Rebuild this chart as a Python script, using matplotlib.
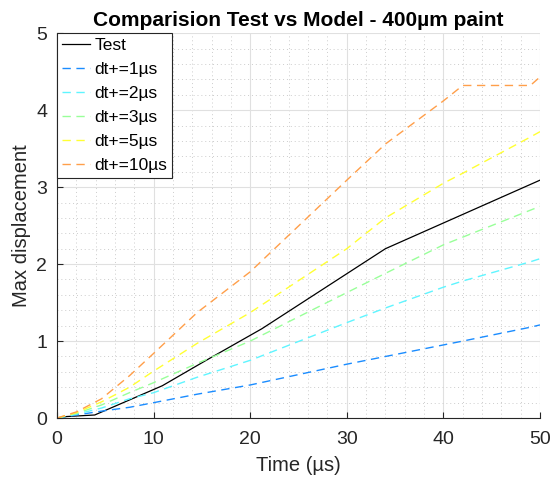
import matplotlib.pyplot as plt
from matplotlib.ticker import MultipleLocator

plt.rcParams['font.family'] = ['Liberation Sans', 'DejaVu Sans']

# Mesures (test) et résultats du modèle pour chaque pas de temps
t_test = [0, 1, 3.9, 10.9, 15.3, 21.2, 34, 50]
d_test = [0, 0.02, 0.04, 0.42, 0.74, 1.16, 2.2, 3.09]

t_model = [0, 2, 4.6, 7.5, 10, 14.5, 20, 30, 34, 40, 42, 49, 50]
d_dt1 = [0, 0.04, 0.09, 0.14, 0.2, 0.31, 0.43, 0.7, 0.8, 0.95, 1.0, 1.18, 1.21]
d_dt2 = [0, 0.05, 0.13, 0.25, 0.33, 0.53, 0.75, 1.24, 1.43, 1.7, 1.78, 2.03, 2.07]
d_dt3 = [0, 0.06, 0.17, 0.33, 0.46, 0.71, 1.0, 1.63, 1.88, 2.25, 2.35, 2.7, 2.75]
d_dt5 = [0, 0.07, 0.21, 0.4, 0.61, 0.97, 1.37, 2.2, 2.6, 3.05, 3.18, 3.65, 3.72]
d_dt10 = [0, 0.08, 0.25, 0.55, 0.84, 1.37, 1.9, 3.09, 3.56, 4.12, 4.32, 4.32, 4.43]

series = [
    ('dt+=1µs', d_dt1, '#1a8cff'),
    ('dt+=2µs', d_dt2, '#5ff5ff'),
    ('dt+=3µs', d_dt3, '#99ff99'),
    ('dt+=5µs', d_dt5, '#ffff33'),
    ('dt+=10µs', d_dt10, '#ff9f4a'),
]

fig = plt.figure(figsize=(5.59, 4.8), dpi=100)
ax = fig.add_axes([0.102, 0.129, 0.864, 0.802])

ax.plot(t_test, d_test, color='black', lw=0.9, label='Test')
for name, vals, col in series:
    ax.plot(t_model, vals, color=col, lw=1.0, ls=(0, (6, 4)), label=name)

ax.set_xlim(0, 50)
ax.set_ylim(0, 5)
ax.xaxis.set_major_locator(MultipleLocator(10))
ax.xaxis.set_minor_locator(MultipleLocator(2))
ax.yaxis.set_major_locator(MultipleLocator(1))
ax.yaxis.set_minor_locator(MultipleLocator(0.2))
ax.grid(which='major', color='#e0e0e0', lw=0.8, ls='-')
ax.grid(which='minor', color='#cccccc', lw=0.7, ls=(0, (1, 3)))
ax.set_axisbelow(True)
for s in ['top', 'right']:
    ax.spines[s].set_visible(False)
for s in ['left', 'bottom']:
    ax.spines[s].set_color('#262626')
ax.tick_params(which='major', direction='in', length=4, labelsize=14, colors='#262626')
ax.tick_params(axis='x', which='major', pad=9)
ax.tick_params(axis='y', which='major', pad=7)
ax.tick_params(which='minor', length=0)

ax.set_xlabel('Time (µs)', fontsize=14.5, color='#262626', labelpad=6)
ax.set_ylabel('Max displacement', fontsize=14.5, color='#262626', labelpad=4)
ax.set_title('Comparision Test vs Model - 400µm paint', fontsize=15, fontweight='bold', pad=5)

leg = ax.legend(loc='upper left', fontsize=12.5, fancybox=False, borderaxespad=0,
                handlelength=1.6, handletextpad=0.25, labelspacing=0.5, borderpad=0.3)
leg.get_frame().set_edgecolor('#262626')
leg.get_frame().set_linewidth(0.8)
leg.get_frame().set_alpha(1)

fig.savefig('out.png', dpi=100)
